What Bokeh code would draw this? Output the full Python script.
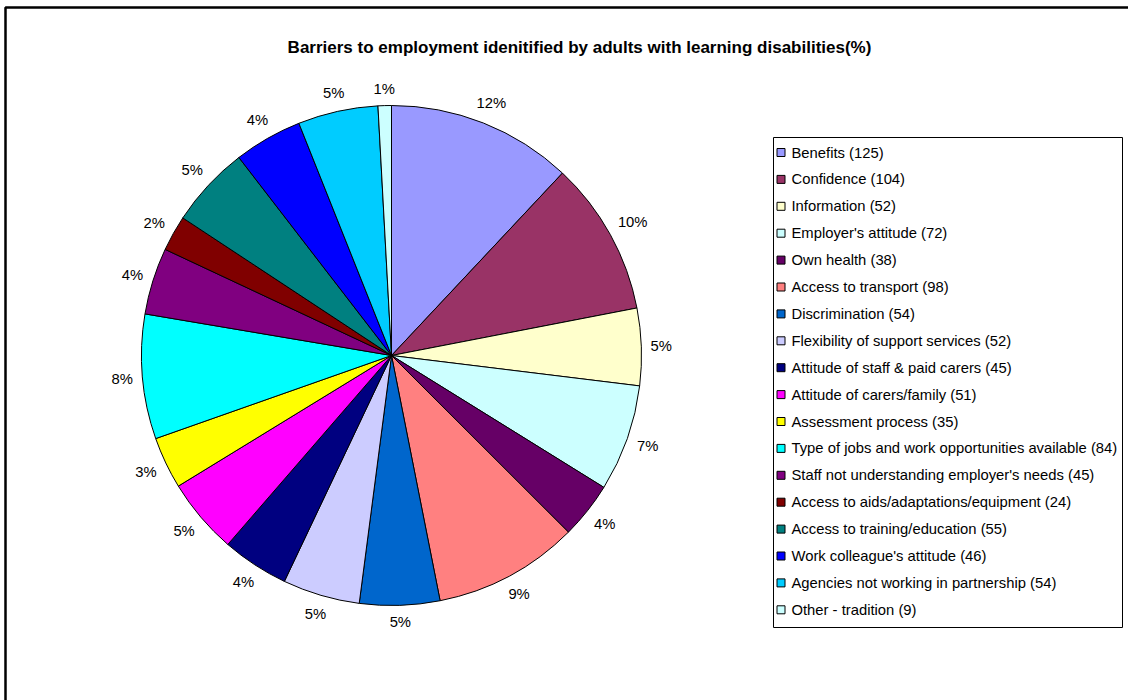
import math
from bokeh.plotting import figure
from bokeh.models import ColumnDataSource, Range1d
from bokeh.core.properties import value
from bokeh.embed import file_html
from bokeh.resources import INLINE

# Barrier categories, counts and slice colours
categories = [
    "Benefits", "Confidence", "Information", "Employer's attitude", "Own health",
    "Access to transport", "Discrimination", "Flexibility of support services",
    "Attitude of staff & paid carers", "Attitude of carers/family", "Assessment process",
    "Type of jobs and work opportunities available", "Staff not understanding employer's needs",
    "Access to aids/adaptations/equipment", "Access to training/education",
    "Work colleague's attitude", "Agencies not working in partnership", "Other - tradition",
]
counts = [125, 104, 52, 72, 38, 98, 54, 52, 45, 51, 35, 84, 45, 24, 55, 46, 54, 9]
colors = [
    "#9999FF", "#993366", "#FFFFCC", "#CCFFFF", "#660066", "#FF8080", "#0066CC",
    "#CCCCFF", "#000080", "#FF00FF", "#FFFF00", "#00FFFF", "#800080", "#800000",
    "#008080", "#0000FF", "#00CCFF", "#CCFFFF",
]
title_text = "Barriers to employment idenitified by adults with learning disabilities(%)"

W, H = 1128, 700
FONT = "Liberation Sans"
FS = 14.8  # body text size in px


def py(y):
    # convert a top-down pixel offset to the upward data axis
    return H - y


p = figure(width=W, height=H, output_backend="svg", toolbar_location=None,
           x_range=Range1d(0, W), y_range=Range1d(0, H), min_border=0)
p.axis.visible = False
p.grid.visible = False
p.outline_line_color = None
p.background_fill_color = "white"
p.border_fill_color = "white"

# chart-area frame (runs off the right and bottom edges)
p.line(x=[5, 5, W + 20], y=[-20, py(7), py(7)], line_color="black", line_width=2.5)

# pie slices, clockwise from 12 o'clock
total = sum(counts)
cx, cy, R = 391, py(355), 250
starts, ends, mids = [], [], []
acc = 0
for v in counts:
    a0 = math.pi / 2 - 2 * math.pi * acc / total
    acc += v
    a1 = math.pi / 2 - 2 * math.pi * acc / total
    starts.append(a0)
    ends.append(a1)
    mids.append((a0 + a1) / 2)

src = ColumnDataSource(dict(start=starts, end=ends, color=colors))
p.wedge(x=cx, y=cy, radius=R, start_angle="start", end_angle="end", direction="clock",
        fill_color="color", line_color="black", line_width=1, source=src)

# percentage labels placed just outside the rim
pct = [f"{round(v / total * 100)}%" for v in counts]
k = FS / 13
lx, ly = [], []
for m, t in zip(mids, pct):
    w = k * (7.2 * (len(t) - 1) + 11.6)
    h = FS
    r = R + 9 + abs(math.cos(m)) * w / 2 + abs(math.sin(m)) * h / 2
    lx.append(cx + r * math.cos(m))
    ly.append(cy + r * math.sin(m))
p.text(x=lx, y=ly, text=pct, text_align="center", text_baseline="middle",
       text_font=value(FONT), text_font_size=f"{FS}px", text_color="black")

# title
p.text(x=[579], y=[py(47)], text=[title_text], text_align="center", text_baseline="middle",
       text_font=value(FONT), text_font_size="17px", text_font_style="bold", text_color="black")

# legend box
p.quad(left=773, right=1122, top=py(137), bottom=py(627), fill_color="white",
       line_color="black", line_width=1)
leg_labels = [f"{c} ({v})" for c, v in zip(categories, counts)]
ys = [py(152 + i * 26.9) for i in range(len(categories))]
p.rect(x=[780.5] * len(ys), y=ys, width=8, height=8, fill_color=colors,
       line_color="black", line_width=1)
p.text(x=[791] * len(ys), y=ys, text=leg_labels, text_align="left", text_baseline="middle",
       text_font=value(FONT), text_font_size=f"{FS}px", text_color="black")

open("out.html", "w").write(file_html(p, INLINE))
